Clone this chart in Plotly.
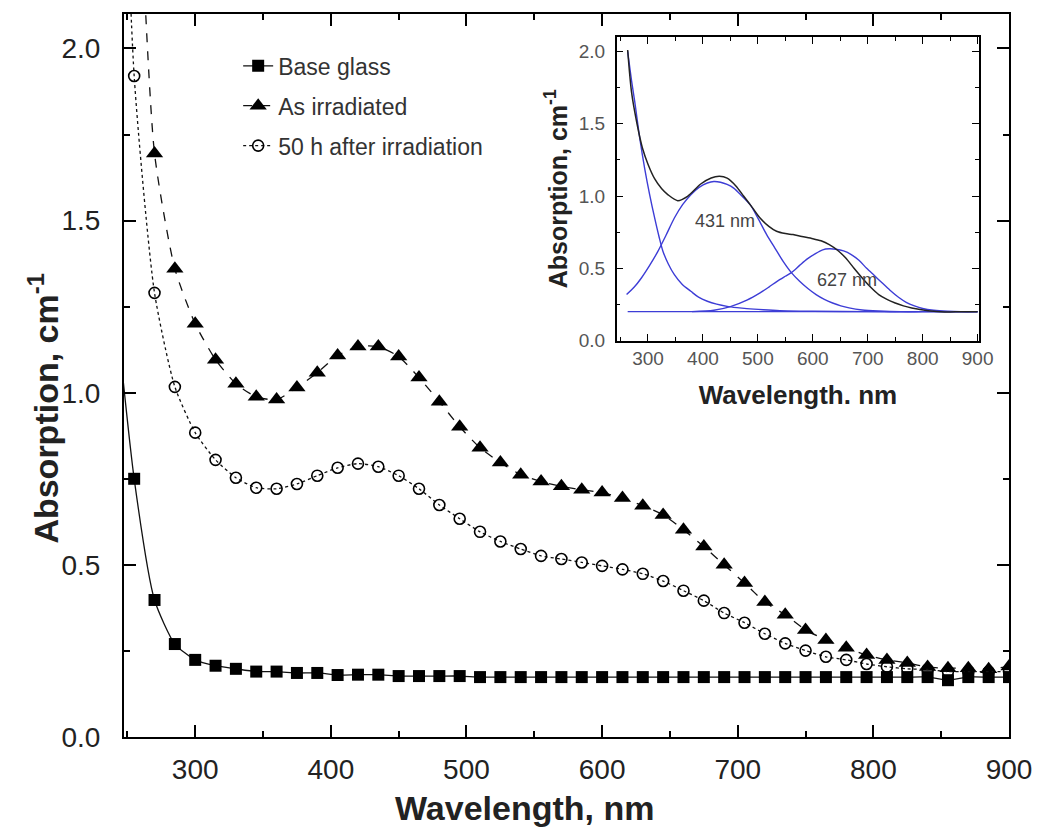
import plotly.graph_objects as go

# ---------------- main chart data ----------------
wl = [240, 255, 270, 285, 300, 315, 330, 345, 360, 375, 390, 405, 420, 435, 450,
      465, 480, 495, 510, 525, 540, 555, 570, 585, 600, 615, 630, 645, 660, 675,
      690, 705, 720, 735, 750, 765, 780, 795, 810, 825, 840, 855, 870, 885, 900]

base_glass = [1.3, 0.75, 0.398, 0.27, 0.224, 0.207, 0.198, 0.19, 0.19, 0.186, 0.186, 0.18,
              0.181, 0.181, 0.177, 0.177, 0.177, 0.177, 0.174, 0.174, 0.174, 0.174, 0.174,
              0.174, 0.174, 0.174, 0.174, 0.174, 0.174, 0.174, 0.174, 0.174, 0.174, 0.174,
              0.174, 0.174, 0.174, 0.174, 0.174, 0.174, 0.174, 0.165, 0.174, 0.174, 0.174]

as_irradiated = [3.4, 2.75, 1.695, 1.36, 1.20, 1.096, 1.026, 0.988, 0.98, 1.015, 1.058, 1.108,
                 1.134, 1.134, 1.105, 1.044, 0.974, 0.901, 0.84, 0.797, 0.762, 0.742, 0.728,
                 0.718, 0.71, 0.694, 0.672, 0.645, 0.602, 0.553, 0.50, 0.447, 0.392, 0.355,
                 0.311, 0.282, 0.259, 0.238, 0.224, 0.215, 0.203, 0.20, 0.20, 0.197, 0.205]

after_50h = [3.6, 1.92, 1.29, 1.017, 0.884, 0.805, 0.753, 0.724, 0.721, 0.735, 0.759, 0.782,
             0.794, 0.785, 0.759, 0.721, 0.674, 0.634, 0.596, 0.568, 0.546, 0.526, 0.517,
             0.507, 0.497, 0.487, 0.474, 0.453, 0.425, 0.396, 0.36, 0.332, 0.30, 0.272,
             0.251, 0.233, 0.224, 0.212, 0.204, 0.198, 0.196, 0.19, 0.19, 0.19, 0.19]

series_names = ["Base glass", "As irradiated", "50 h after irradiation"]

# ---------------- inset data ----------------
fit_total_x = [263, 270, 280, 290, 300, 312, 325, 336, 354, 372, 396, 415, 430, 444, 460, 474,
               490, 504, 520, 534, 550, 564, 580, 600, 615, 630, 645, 660, 675, 690, 705, 720,
               735, 750, 765, 780, 810, 840, 870, 900]
fit_total_y = [2.01, 1.72, 1.50, 1.33, 1.22, 1.12, 1.05, 1.01, 0.968, 0.998, 1.083, 1.125, 1.136,
               1.124, 1.07, 1.0, 0.92, 0.848, 0.79, 0.756, 0.74, 0.733, 0.72, 0.705, 0.69, 0.664,
               0.625, 0.571, 0.50, 0.433, 0.37, 0.318, 0.285, 0.26, 0.24, 0.226, 0.207, 0.198,
               0.2, 0.2]

uv_x = [263, 270, 276, 285, 294, 303, 312, 320, 327, 337, 348, 362, 378, 392, 408, 425, 444,
        462, 480, 510, 540, 600, 700, 800, 900]
uv_y = [2.0, 1.8, 1.65, 1.40, 1.19, 1.01, 0.85, 0.72, 0.62, 0.53, 0.456, 0.39, 0.341, 0.30,
        0.272, 0.252, 0.237, 0.228, 0.221, 0.213, 0.207, 0.203, 0.2, 0.2, 0.2]

g431_x = [261, 275, 288, 303, 318, 333, 348, 363, 378, 393, 408, 420, 432, 444, 456, 471, 486,
          501, 516, 531, 546, 561, 576, 591, 606, 621, 636, 651, 666, 690, 720, 760, 800, 900]
g431_y = [0.318, 0.37, 0.433, 0.52, 0.617, 0.73, 0.848, 0.94, 1.009, 1.06, 1.09, 1.10, 1.095,
          1.08, 1.055, 1.00, 0.94, 0.84, 0.733, 0.64, 0.548, 0.47, 0.41, 0.36, 0.318, 0.285,
          0.26, 0.24, 0.226, 0.212, 0.205, 0.2, 0.2, 0.2]

g627_x = [380, 420, 450, 480, 504, 520, 535, 550, 561, 576, 590, 604, 618, 630, 642, 656, 670,
          684, 698, 712, 726, 740, 756, 770, 785, 800, 820, 845, 870, 900]
g627_y = [0.2, 0.21, 0.235, 0.28, 0.33, 0.37, 0.41, 0.445, 0.47, 0.52, 0.565, 0.60, 0.628,
          0.635, 0.632, 0.62, 0.595, 0.555, 0.5, 0.45, 0.40, 0.35, 0.30, 0.265, 0.24, 0.222,
          0.21, 0.203, 0.2, 0.2]

baseline_x = [263, 900]
baseline_y = [0.2, 0.2]

peak_labels = ["431 nm", "627 nm"]
peak_label_x = [441, 663]
peak_label_y = [0.83, 0.42]

FONT = "Liberation Sans, Arial, sans-serif"
BLUE = "#3d3dd6"
TXT = "#222222"

fig = go.Figure()

fig.add_trace(go.Scatter(
    x=wl, y=base_glass, name=series_names[0], mode="lines+markers", legendgroup="a",
    line=dict(color="#111111", width=1.3, shape="spline", smoothing=0.6),
    marker=dict(symbol="square", size=12, color="black", line=dict(width=0)),
))
fig.add_trace(go.Scatter(
    x=wl, y=as_irradiated, name=series_names[1], mode="lines+markers", legendgroup="b",
    line=dict(color="#111111", width=1.3, dash="dash", shape="spline", smoothing=0.6),
    marker=dict(symbol="triangle-up", size=15, color="black", line=dict(width=0)),
))
fig.add_trace(go.Scatter(
    x=wl, y=after_50h, name=series_names[2], mode="lines+markers", legendgroup="c",
    line=dict(color="#111111", width=1.3, dash="dot", shape="spline", smoothing=0.6),
    marker=dict(symbol="circle-open", size=11, color="black", line=dict(width=1.6)),
))

# inset traces
for xs, ys in [(uv_x, uv_y), (g431_x, g431_y), (g627_x, g627_y), (baseline_x, baseline_y)]:
    fig.add_trace(go.Scatter(
        x=xs, y=ys, mode="lines", xaxis="x2", yaxis="y2", showlegend=False,
        line=dict(color=BLUE, width=1.4, shape="spline", smoothing=0.8),
    ))
fig.add_trace(go.Scatter(
    x=fit_total_x, y=fit_total_y, mode="lines", xaxis="x2", yaxis="y2", showlegend=False,
    line=dict(color="#222222", width=1.5, shape="spline", smoothing=0.8),
))

for txt, ax, ay in zip(peak_labels, peak_label_x, peak_label_y):
    fig.add_annotation(x=ax, y=ay, xref="x2", yref="y2", text=txt, showarrow=False,
                       font=dict(family=FONT, size=18, color="#444444"))

# main axis titles (placed as in the reference)
fig.add_annotation(x=0.452, y=-0.098, xref="paper", yref="paper", text="<b>Wavelength, nm</b>",
                   showarrow=False, xanchor="center", yanchor="middle",
                   font=dict(family=FONT, size=34, color=TXT))
fig.add_annotation(x=-0.092, y=0.455, xref="paper", yref="paper",
                   text="<b>Absorption, cm<sup>-1</sup></b>", textangle=-90,
                   showarrow=False, xanchor="center", yanchor="middle",
                   font=dict(family=FONT, size=34, color=TXT))

axis_common = dict(
    showline=True, linecolor="black", linewidth=2, mirror="allticks",
    ticks="inside", tickcolor="black", tickwidth=1.6, ticklen=12,
    showgrid=False, zeroline=False,
)

fig.update_layout(
    width=1044, height=836,
    margin=dict(l=124, r=26, t=13, b=99),
    paper_bgcolor="white", plot_bgcolor="white",
    font=dict(family=FONT, color=TXT),
    showlegend=True,
    hovermode=False,
    legend=dict(
        x=0.129, y=0.958, xanchor="left", yanchor="top",
        bgcolor="rgba(0,0,0,0)", borderwidth=0,
        font=dict(family=FONT, size=23, color="#333333"),
        tracegroupgap=7,
    ),
    xaxis=dict(
        range=[247.5, 900], tick0=300, dtick=100,
        minor=dict(dtick=50, ticks="inside", ticklen=6, tickcolor="black", tickwidth=1.6),
        tickfont=dict(family=FONT, size=28, color=TXT), ticklabelstandoff=6,
        **axis_common,
    ),
    yaxis=dict(
        range=[0, 2.1], tick0=0, dtick=0.5, tickformat=".1f",
        minor=dict(dtick=0.25, ticks="inside", ticklen=6, tickcolor="black", tickwidth=1.6),
        tickfont=dict(family=FONT, size=28, color=TXT), ticklabelstandoff=16,
        **axis_common,
    ),
    xaxis2=dict(
        domain=[0.5567, 0.9664], anchor="y2", range=[243, 903], tick0=300, dtick=100,
        minor=dict(dtick=50, ticks="inside", ticklen=4, tickcolor="black", tickwidth=1.2),
        tickfont=dict(family=FONT, size=19, color="#555555"), ticklabelstandoff=0,
        title=dict(text="<b>Wavelength. nm</b>", font=dict(family=FONT, size=26, color=TXT), standoff=18),
        showline=True, linecolor="black", linewidth=1.6, mirror="allticks",
        ticks="inside", tickcolor="black", tickwidth=1.2, ticklen=7,
        showgrid=False, zeroline=False,
    ),
    yaxis2=dict(
        domain=[0.5483, 0.9682], anchor="x2", range=[0, 2.1], tick0=0, dtick=0.5, tickformat=".1f",
        minor=dict(dtick=0.25, ticks="inside", ticklen=4, tickcolor="black", tickwidth=1.2),
        tickfont=dict(family=FONT, size=19, color="#555555"), ticklabelstandoff=6,
        title=dict(text="<b>Absorption, cm<sup>-1</sup></b>", font=dict(family=FONT, size=25, color=TXT), standoff=4),
        showline=True, linecolor="black", linewidth=1.6, mirror="allticks",
        ticks="inside", tickcolor="black", tickwidth=1.2, ticklen=7,
        showgrid=False, zeroline=False,
    ),
)

fig.write_html(
    "out.html", config={"displayModeBar": False},
    post_script="document.body.style.margin='0px';document.body.style.overflow='hidden';"
                "document.documentElement.style.overflow='hidden';",
)
